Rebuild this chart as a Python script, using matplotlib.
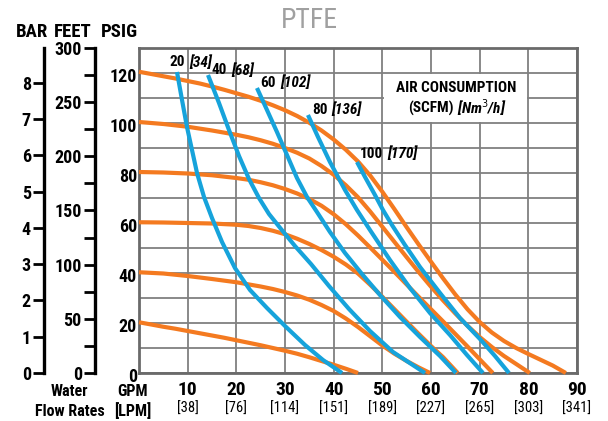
import matplotlib
matplotlib.use('Agg')
import matplotlib.pyplot as plt
from matplotlib.offsetbox import TextArea, HPacker, AnnotationBbox
from matplotlib.patches import Rectangle

FAM = ['Roboto Condensed', 'Noto Sans Condensed', 'Liberation Sans Narrow', 'DejaVu Sans Condensed',
       'Noto Sans', 'Roboto', 'DejaVu Sans']
plt.rcParams['font.family'] = FAM
plt.rcParams['font.stretch'] = 'condensed'

# ---------------- data ----------------
# Orange: discharge pressure curves at air inlet pressures (psig)
o20_gpm = [0, 2.5, 5, 7.5, 10, 12.5, 15, 17.5, 20, 22.5, 25, 27.5, 30, 32.5, 35, 37.5, 40, 42.5, 45]
o20_psi = [20.3, 19.4, 18.5, 17.7, 16.8, 15.9, 15.0, 14.1, 13.1, 12.1, 11.1, 10.0, 8.9, 7.7, 6.3, 4.8, 3.3, 1.7, 0]
o40_gpm = [0, 5, 10, 15, 20, 25, 27.5, 30, 32.5, 35, 37.5, 40, 42.5, 45, 47.5, 50, 52.5, 55, 57.5, 59.8]
o40_psi = [40.3, 39.8, 38.8, 37.6, 36.3, 34.6, 33.6, 32.4, 31.0, 29.3, 27.2, 24.8, 21.8, 18.4, 14.7, 11.0,
           7.7, 4.8, 2.2, 0]
o60_gpm = [0, 5, 10, 15, 20, 22.5, 25, 27.5, 30, 32.5, 35, 37.5, 40, 42.5, 45, 47.5, 50, 52.5, 55, 57.5,
           60, 62.5, 65.5]
o60_psi = [60.3, 60.2, 60.0, 59.8, 59.3, 58.8, 58.0, 56.9, 55.5, 53.7, 51.6, 49.2, 46.5, 43.4, 39.8, 35.3,
           30.5, 25.5, 20.5, 15.6, 10.8, 6.3, 0]
o80_gpm = [0, 5, 10, 15, 20, 22.5, 25, 27.5, 30, 32.5, 35, 37.5, 40, 42.5, 45, 47.5, 50, 52.5, 55, 57.5,
           60, 62.5, 65, 67.5, 70, 72.7]
o80_psi = [80.4, 80.2, 79.8, 79.1, 78.0, 77.3, 76.3, 75.1, 73.6, 71.8, 69.6, 66.9, 63.5, 59.5, 55.0, 50.2,
           45.3, 40.4, 35.4, 30.4, 25.5, 20.6, 15.6, 10.6, 5.5, 0]
o100_gpm = [0, 5, 10, 15, 20, 22.5, 25, 27.5, 30, 32.5, 35, 37.5, 40, 42.5, 45, 47.5, 50, 52.5, 55, 57.5,
            60, 62.5, 65, 67.5, 70, 72.5, 75, 77.5, 80.3]
o100_psi = [100.4, 99.6, 98.5, 97.0, 95.3, 94.3, 93.1, 91.7, 90.0, 88.1, 85.8, 82.8, 79.3, 75.1, 70.3, 64.6,
            58.5, 52.4, 46.3, 40.3, 34.5, 29.0, 23.8, 18.9, 14.4, 10.4, 6.8, 3.6, 0]
o120_gpm = [0, 2.5, 5, 7.5, 10, 12.5, 15, 17.5, 20, 22.5, 25, 27.5, 30, 32.5, 35, 37.5, 40, 42.5, 45, 47.5,
            50, 52.5, 55, 57.5, 60, 62.5, 65, 67.5, 70, 72.5, 75, 77.5, 80, 82.5, 85, 87.7]
o120_psi = [120.5, 119.6, 118.7, 117.8, 116.8, 115.8, 114.6, 113.3, 111.9, 110.5, 108.9, 107.1, 105.1, 102.8,
            100.1, 97.0, 93.4, 89.3, 84.6, 79.0, 72.5, 65.5, 58.3, 51.3, 44.5, 37.8, 31.4, 25.5, 20.4, 16.2,
            12.8, 10.0, 7.6, 5.3, 3.0, 0]

# Blue: air consumption curves (SCFM)
b20_gpm = [7.81, 8.84, 9.86, 10.89, 11.92, 13.36, 15.00, 17.06, 19.72, 22.81, 26.30, 30.00, 34.11, 37.81, 41.71]
b20_psi = [120.4, 109.2, 98.4, 89.2, 80.0, 70.4, 62.0, 52.4, 42.0, 33.2, 26.0, 18.8, 11.2, 5.2, 0]
b40_gpm = [14.18, 16.44, 18.49, 20.55, 22.60, 24.66, 26.71, 29.18, 32.05, 35.34, 39.04, 43.15, 47.46, 52.19, 58.76]
b40_psi = [119.2, 108.0, 97.2, 86.8, 77.6, 70.0, 63.6, 57.6, 50.8, 43.6, 34.8, 25.6, 16.8, 8.4, 0]
b60_gpm = [24.24, 26.30, 28.35, 30.41, 32.46, 34.52, 36.57, 39.24, 42.33, 45.82, 49.52, 53.63, 57.74, 61.85, 65.13]
b60_psi = [114.0, 105.2, 96.4, 87.2, 78.0, 70.4, 64.4, 56.4, 48.0, 39.6, 31.2, 22.4, 14.4, 6.8, 0]
b80_gpm = [34.72, 36.78, 39.24, 42.33, 44.79, 47.46, 51.57, 55.68, 59.79, 63.90, 67.39, 70.68]
b80_psi = [103.2, 94.4, 84.4, 73.2, 65.2, 57.2, 45.2, 34.0, 24.0, 15.2, 7.2, 0]
b100_gpm = [44.79, 46.44, 48.49, 50.13, 51.98, 54.65, 57.74, 61.85, 65.95, 70.06, 73.15, 76.02]
b100_psi = [84.4, 78.4, 71.2, 65.2, 59.2, 51.2, 42.4, 32.0, 22.0, 13.6, 6.8, 0]

scfm_labels = ['20', '40', '60', '80', '100']
nm3h_labels = ['[34]', '[68]', '[102]', '[136]', '[170]']

gpm_ticks = [10, 20, 30, 40, 50, 60, 70, 80, 90]
lpm_labels = ['[38]', '[76]', '[114]', '[151]', '[189]', '[227]', '[265]', '[303]', '[341]']
psi_ticks = [0, 20, 40, 60, 80, 100, 120]
bar_ticks = [0, 1, 2, 3, 4, 5, 6, 7, 8]
feet_major = [0, 50, 100, 150, 200, 250, 300]
feet_minor = [25, 75, 125, 175, 225, 275]

ORANGE = '#F47A20'
BLUE = '#16A3DB'
GRID = '#808080'

# ---------------- figure ----------------
W, H = 608, 421
fig = plt.figure(figsize=(W / 100, H / 100), dpi=100)
fig.patch.set_facecolor('white')


def fx(px):
    return px / W


def fy(py):
    return 1 - py / H


x0, x1, ytop, ybot = 139, 577, 48, 373
ax = fig.add_axes([fx(x0), fy(ybot), fx(x1) - fx(x0), fy(ytop) - fy(ybot)])
ax.set_xlim(0, 90)
ax.set_ylim(0, 130)
ax.set_xticks(range(0, 91, 10))
ax.set_yticks(range(0, 131, 10))
ax.grid(True, color=GRID, lw=1.3)
ax.set_axisbelow(True)
for s in ax.spines.values():
    s.set_color('#6a6a6a')
    s.set_linewidth(2)
ax.tick_params(length=0)
ax.set_xticklabels([])
ax.set_yticklabels([])

# psi labels
for v in psi_ticks:
    ax.annotate(str(v), xy=(0, v), xycoords='data', xytext=(-2, -4), textcoords='offset pixels',
                ha='right', va='center', fontsize=13, fontweight='bold', annotation_clip=False)

# gpm labels
for v, l in zip(gpm_ticks, lpm_labels):
    ax.annotate(str(v), xy=(v, 0), xycoords='data', xytext=(0, -17), textcoords='offset pixels',
                ha='center', va='center', fontsize=14, fontweight='bold', annotation_clip=False)
    ax.annotate(l, xy=(v, 0), xycoords='data', xytext=(0, -36), textcoords='offset pixels',
                ha='center', va='center', fontsize=10.5, annotation_clip=False)

# legend box
ax.add_patch(Rectangle((50.25, 100.4), 29.5, 19.2, facecolor='white', edgecolor='none', zorder=1))
ax.text(65.1, 113.8, 'AIR CONSUMPTION', ha='center', va='center', fontsize=11, fontweight='bold', zorder=5)
ax.annotate('(SCFM)', xy=(64.7, 106), xycoords='data', ha='right', va='center', fontsize=11,
            fontweight='bold', zorder=5)
ax.annotate('[Nm$^3$/h]', xy=(65.3, 106), xycoords='data', ha='left', va='center', fontsize=11,
            fontweight='bold', style='italic', zorder=5)

# curves
lw = 3.0
for g, p in [(o20_gpm, o20_psi), (o40_gpm, o40_psi), (o60_gpm, o60_psi),
             (o80_gpm, o80_psi), (o100_gpm, o100_psi), (o120_gpm, o120_psi)]:
    ax.plot(g, p, color=ORANGE, lw=lw, solid_capstyle='butt', solid_joinstyle='round', zorder=3, clip_on=False)
for g, p in [(b20_gpm, b20_psi), (b40_gpm, b40_psi), (b60_gpm, b60_psi),
             (b80_gpm, b80_psi), (b100_gpm, b100_psi)]:
    ax.plot(g, p, color=BLUE, lw=lw, solid_capstyle='butt', solid_joinstyle='round', zorder=4, clip_on=False)

# curve labels
label_pos = [(6.2, 124.2), (15.0, 121.0), (24.9, 116.0), (35.5, 105.2), (45.4, 87.6)]
for (lx, ly), a, b in zip(label_pos, scfm_labels, nm3h_labels):
    t1 = TextArea(a, textprops=dict(fontsize=11, fontweight='bold', family=FAM, stretch='condensed'))
    t2 = TextArea(b, textprops=dict(fontsize=11, fontweight='bold', style='italic', family=FAM,
                                    stretch='condensed'))
    pk = HPacker(children=[t1, t2], align='center', pad=0, sep=3)
    ab = AnnotationBbox(pk, (lx, ly), xycoords='data', box_alignment=(0, 0.5), frameon=False,
                        pad=0, zorder=6, annotation_clip=False)
    ax.add_artist(ab)


def side_axis(xpix, top, major, minor=None):
    a = fig.add_axes([fx(xpix), fy(ybot), 0.0001, fy(ytop) - fy(ybot)])
    a.set_ylim(0, top)
    a.set_xticks([])
    for k in ['top', 'right', 'bottom']:
        a.spines[k].set_visible(False)
    a.spines['left'].set_linewidth(2.4)
    a.set_yticks(major)
    a.set_yticklabels([str(v) for v in major])
    if minor:
        a.set_yticks(minor, minor=True)
    a.tick_params(axis='y', which='both', length=8, width=2, pad=1.5, labelsize=13)
    for t in a.get_yticklabels():
        t.set_fontweight('bold')
    a.patch.set_visible(False)
    return a


side_axis(44, 130 / 14.5038, bar_ticks)
side_axis(95, 300, feet_major, feet_minor)

# headers
fig.text(fx(32), fy(32), 'BAR', ha='center', va='center', fontsize=13.5, fontweight='bold')
fig.text(fx(72.5), fy(32), 'FEET', ha='center', va='center', fontsize=13.5, fontweight='bold')
fig.text(fx(119.5), fy(32), 'PSIG', ha='center', va='center', fontsize=13.5, fontweight='bold')
fig.text(fx(309), fy(21), 'PTFE', ha='center', va='center', fontsize=20, color='#a0a0a0')

fig.text(fx(69), fy(392), 'Water', ha='center', va='center', fontsize=11.5, fontweight='bold')
fig.text(fx(69.5), fy(411), 'Flow Rates', ha='center', va='center', fontsize=11.5, fontweight='bold')
fig.text(fx(132), fy(392), 'GPM', ha='center', va='center', fontsize=11.5, fontweight='bold')
fig.text(fx(132.5), fy(411), '[LPM]', ha='center', va='center', fontsize=11.5, fontweight='bold')

fig.savefig('out.png', dpi=100, facecolor='white')
